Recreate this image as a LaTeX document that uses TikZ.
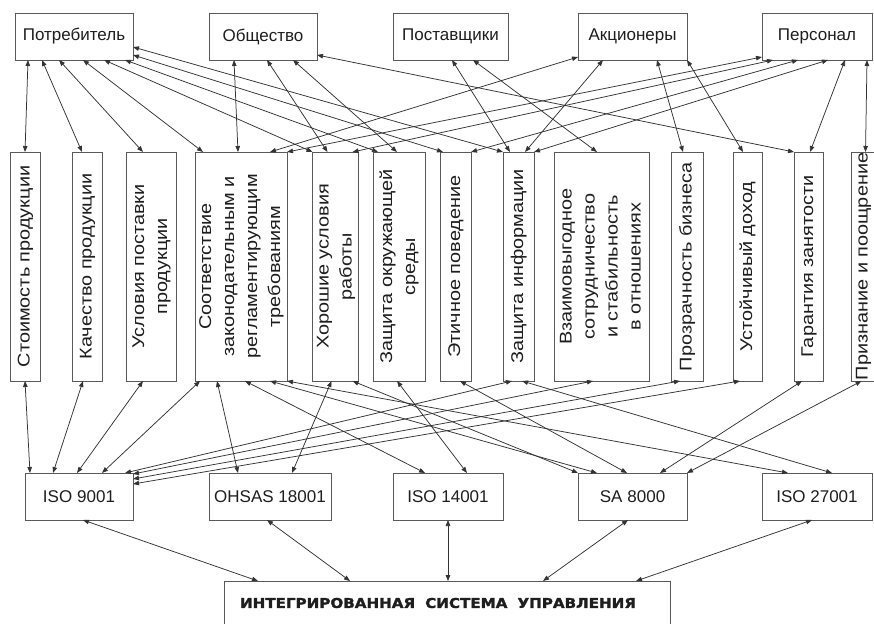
\documentclass[tikz,border=0pt]{standalone}
\usepackage{fontspec}
\usepackage{graphicx}
\setmainfont{Liberation Sans}
\newfontfamily\heavyfont{DejaVu Sans Bold}[FakeBold=1.6]
\usetikzlibrary{arrows.meta}

\definecolor{boxc}{HTML}{5A5A5A}
\definecolor{linec}{HTML}{333333}
\definecolor{txtc}{HTML}{1E1E1E}

% vertical (rotated) label, several centred lines, slightly widened
\newcommand{\vlab}[1]{\rotatebox{90}{\scalebox{1.17}[1]{\begin{tabular}{@{}c@{}}#1\end{tabular}}}}
\newcommand{\lblfont}{\fontsize{17}{23}\selectfont}

\begin{document}
\begin{tikzpicture}[x=1pt,y=-1pt,
  box/.style={draw=boxc, line width=0.9pt, inner sep=0pt, outer sep=0pt, text=txtc, font=\lblfont},
  tbox/.style={box, minimum height=47pt},
  vbox/.style={box, minimum height=229pt},
  link/.style={draw=linec, line width=0.75pt,
    arrows={Triangle[length=6pt,width=4.5pt]-Triangle[length=6pt,width=4.5pt]}}
]
\useasboundingbox (0,0) rectangle (874,623);
\fill[white] (0,0) rectangle (874,623);
\clip (0,0) rectangle (874,623);

% stakeholders
\node[tbox, minimum width=118pt] (cons)  at (74,36.5)    {Потребитель};
\node[tbox, minimum width=108pt] (soc)   at (263,36.5)   {Общество};
\node[tbox, minimum width=115pt] (supp)  at (450.5,36.5) {Поставщики};
\node[tbox, minimum width=109pt] (share) at (632.5,36.5) {Акционеры};
\node[tbox, minimum width=110pt] (staff) at (817,36.5)   {Персонал};

% requirements
\node[vbox, minimum width=30pt] (cost)   at (25,266.5)    {\vlab{Стоимость продукции}};
\node[vbox, minimum width=30pt] (qual)   at (87,266.5)    {\vlab{Качество продукции}};
\node[vbox, minimum width=50pt] (deliv)  at (151,266.5)   {\vlab{Условия поставки\\продукции}};
\node[vbox, minimum width=92pt] (law)    at (241,266.5)   {\vlab{Соответствие\\законодательным и\\регламентирующим\\требованиям}};
\node[vbox, minimum width=45pt] (work)   at (335.5,266.5) {\vlab{Хорошие условия\\работы}};
\node[vbox, minimum width=52pt] (env)    at (399,266.5)   {\vlab{Защита окружающей\\среды}};
\node[vbox, minimum width=31pt] (eth)    at (455.5,266.5) {\vlab{Этичное поведение}};
\node[vbox, minimum width=31pt] (info)   at (518.5,266.5) {\vlab{Защита информации}};
\node[vbox, minimum width=95pt] (coop)   at (601.5,266.5) {\vlab{Взаимовыгодное\\сотрудничество\\и стабильность\\в отношениях}};
\node[vbox, minimum width=32pt] (transp) at (687,266.5)   {\vlab{Прозрачность бизнеса}};
\node[vbox, minimum width=29pt] (income) at (747.5,266.5) {\vlab{Устойчивый доход}};
\node[vbox, minimum width=29pt] (job)    at (808.5,266.5) {\vlab{Гарантия занятости}};
\node[vbox, minimum width=20pt] (recog)  at (863,266.5)   {\vlab{Признание и поощрение}};

% standards
\node[tbox, minimum width=108pt] (iso9)  at (79,496.5)    {ISO\hspace{5pt}9001};
\node[tbox, minimum width=122pt] (ohsas) at (270,496.5)   {OHSAS 18001};
\node[tbox, minimum width=110pt] (iso14) at (448,496.5)   {ISO 14001};
\node[tbox, minimum width=109pt] (sa)    at (632.5,496.5) {SA\hspace{5pt}8000};
\node[tbox, minimum width=110pt] (iso27) at (817,496.5)   {ISO 27001};

% integrated system
\node[box, minimum width=446pt, minimum height=44pt, anchor=north,
      font=\heavyfont\fontsize{13.5}{15}\selectfont] (ims) at (447,581)
  {\scalebox{1.12}[1]{ИНТЕГРИРОВАННАЯ\hspace{9pt}СИСТЕМА\hspace{9pt}УПРАВЛЕНИЯ}\hspace*{18pt}};

% stakeholders -- requirements
\draw[link] ([xshift=13pt]cons.south west)  -- ([xshift=15pt]cost.north west);
\draw[link] ([xshift=27pt]cons.south west)  -- ([xshift=10pt]qual.north west);
\draw[link] ([xshift=44pt]cons.south west)  -- ([xshift=17pt]deliv.north west);
\draw[link] ([xshift=68pt]cons.south west)  -- ([xshift=8pt]law.north west);
\draw[link] ([xshift=89pt]cons.south west)  -- (work.north west);
\draw[link] ([xshift=110pt]cons.south west) -- ([xshift=5pt]env.north west);
\draw[link] ([yshift=5pt]cons.south east)   -- ([xshift=3pt]eth.north west);
\draw[link] ([yshift=13pt]cons.south east)  -- (info.north west);

\draw[link] ([xshift=25pt]soc.south west) -- ([xshift=43pt]law.north west);
\draw[link] ([xshift=58pt]soc.south west) -- ([xshift=15pt]work.north west);
\draw[link] ([xshift=84pt]soc.south west) -- ([xshift=24pt]env.north west);
\draw[link] ([yshift=5pt]soc.south east)  -- (job.north west);

\draw[link] ([xshift=59pt]supp.south west) -- ([xshift=7pt]info.north west);
\draw[link] ([xshift=80pt]supp.south west) -- ([xshift=43pt]coop.north west);

\draw[link] ([yshift=3pt]share.south west)  -- ([xshift=75pt]law.north west);
\draw[link] ([xshift=25pt]share.south west) -- ([xshift=22pt]info.north west);
\draw[link] ([xshift=79pt]share.south west) -- ([xshift=12pt]transp.north west);
\draw[link] (share.south east)              -- ([xshift=10pt]income.north west);

\draw[link] ([yshift=3pt]staff.south west)   -- (law.north east);
\draw[link] ([xshift=11pt]staff.south west)  -- ([xshift=-6pt]work.north east);
\draw[link] ([xshift=36pt]staff.south west)  -- (eth.north east);
\draw[link] ([xshift=66pt]staff.south west)  -- (info.north east);
\draw[link] ([xshift=83pt]staff.south west)  -- ([xshift=16pt]job.north west);
\draw[link] ([xshift=105pt]staff.south west) -- ([xshift=14pt]recog.north west);

% requirements -- standards
\draw[link] ([xshift=15pt]cost.south west)  -- ([xshift=5pt]iso9.north west);
\draw[link] ([xshift=11pt]qual.south west)  -- ([xshift=28pt]iso9.north west);
\draw[link] ([xshift=17pt]deliv.south west) -- ([xshift=52pt]iso9.north west);
\draw[link] ([xshift=5pt]law.south west)    -- ([xshift=77pt]iso9.north west);
\draw[link] ([xshift=22pt]law.south west)   -- ([xshift=29pt]ohsas.north west);
\draw[link] ([xshift=50pt]law.south west)   -- ([xshift=32pt]iso14.north west);
\draw[link] ([xshift=75pt]law.south west)   -- ([xshift=19pt]sa.north west);
\draw[link] (law.south east)                -- ([xshift=26pt]iso27.north west);
\draw[link] ([xshift=19pt]work.south west)  -- ([xshift=83pt]ohsas.north west);
\draw[link] ([xshift=40pt]work.south west)  -- (sa.north west);
\draw[link] ([xshift=24pt]env.south west)   -- ([xshift=74pt]iso14.north west);
\draw[link] ([xshift=20pt]eth.south west)   -- ([xshift=49pt]sa.north west);
\draw[link] ([xshift=19pt]info.south west)  -- ([xshift=70pt]iso27.north west);
\draw[link] ([xshift=9pt]info.south west)   -- ([xshift=100pt]iso9.north west);
\draw[link] ([xshift=39pt]coop.south west)  -- ([yshift=-1pt]iso9.north east);
\draw[link] ([xshift=9pt]transp.south west) -- ([yshift=-6pt]iso9.north east);
\draw[link] ([xshift=7pt]income.south west) -- ([yshift=-11pt]iso9.north east);
\draw[link] ([xshift=8pt]job.south west)    -- ([xshift=82pt]sa.north west);
\draw[link] ([xshift=10pt]recog.south west) -- (sa.north east);

% standards -- integrated system
\draw[link] ([xshift=58pt]iso9.south west)  -- ([xshift=34pt]ims.north west);
\draw[link] ([xshift=58pt]ohsas.south west) -- ([xshift=126pt]ims.north west);
\draw[link] (iso14.south)                   -- (iso14.south |- ims.north);
\draw[link] ([xshift=50pt]sa.south west)    -- ([xshift=319pt]ims.north west);
\draw[link] ([xshift=50pt]iso27.south west) -- ([xshift=412pt]ims.north west);
\end{tikzpicture}
\end{document}
